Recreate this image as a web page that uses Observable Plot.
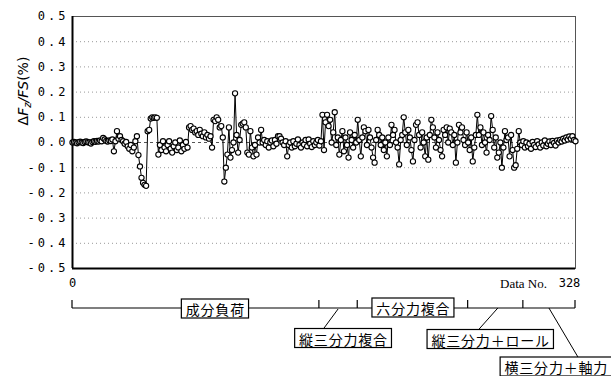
<!DOCTYPE html>
<html><head><meta charset="utf-8">
<script src="https://cdn.jsdelivr.net/npm/d3@7"></script>
<script src="https://cdn.jsdelivr.net/npm/@observablehq/plot@0.6"></script>
<style>
html,body{margin:0;padding:0;background:#fff;}
</style>
</head><body><div id="chart"></div>
<script>
// ΔFz/FS (%) read per Data No., in segments
const segA = [0.000, 0.002, 0.000, -0.003, 0.001, 0.003, 0.000, -0.002, 0.002, 0.004,
  0.001, 0.000, -0.004, 0.002, 0.005, 0.003, 0.006, 0.004, 0.008, 0.005,
  0.018, 0.012, 0.006, 0.004, 0.008, 0.006];
const segB = [0.012, -0.035, 0.005, 0.045, 0.015, 0.025, 0.010, 0.005, -0.005, 0.002,
  -0.015, -0.025, -0.010, -0.035, -0.020, 0.005, 0.025, -0.050, -0.095, -0.140,
  -0.160, -0.168, -0.172, 0.045, 0.050, 0.095, 0.100, 0.098, 0.100, 0.098,
  -0.048];
const segC = [-0.010, -0.030, 0.005, -0.020, -0.035, -0.010, 0.005, -0.025, -0.040, -0.015,
  0.000, -0.030, -0.020, 0.008, -0.035, -0.010, -0.025, 0.002, -0.020, 0.060,
  0.065, 0.050, 0.055, 0.040, 0.045, 0.030, 0.050, 0.035, 0.025, 0.040,
  0.020, 0.030, 0.015, 0.025, -0.020];
const segD = [0.090, 0.085, 0.100, 0.090, 0.060, 0.065, 0.020, -0.155, -0.100, -0.048,
  0.060, -0.060, -0.030, 0.000, 0.195, 0.030, -0.040, 0.010, 0.070, 0.075,
  0.080, 0.060, -0.040, -0.048, 0.045, -0.020, -0.055, -0.010, -0.048, 0.020,
  0.000, 0.050, 0.000];
const segE = [0.010, -0.010, 0.005, -0.020, 0.000, 0.008, -0.015, 0.010, -0.005, 0.025,
  0.025, 0.015, 0.000, -0.010, 0.005, -0.055, -0.010, 0.000, -0.020, 0.005,
  -0.015, -0.005, 0.012, -0.010, -0.020, 0.000, -0.008, 0.010, -0.015, 0.012,
  -0.005, -0.018, 0.005, -0.010, 0.000, 0.010, -0.012, 0.005];
const segF = [0.110, -0.030, 0.080, 0.110, 0.065, 0.090, 0.000, 0.040, 0.120, -0.010,
  0.020, -0.048, 0.010, 0.045, -0.035, 0.020, -0.010, -0.060, 0.040, 0.010,
  -0.020, 0.030, 0.000, 0.090, 0.010, -0.055, 0.020, 0.060, 0.045, -0.010,
  0.050, 0.020, -0.020, -0.060, -0.080, 0.010, 0.050, 0.030, -0.010, 0.020,
  -0.030, 0.000, -0.055, 0.020, -0.010, 0.070, 0.030, 0.050, 0.000, -0.020,
  -0.087, 0.010, 0.030, 0.100, 0.040, -0.010, 0.050, 0.020, -0.030, -0.075];
const segG = [0.010, 0.070, 0.080, 0.030, -0.020, 0.040, 0.000, -0.055, 0.020, -0.068,
  0.030, 0.090, 0.060, 0.020, -0.020, 0.040, 0.010, -0.030, -0.055, 0.050,
  0.030, 0.060, 0.000, 0.055, 0.040, -0.010, 0.030, -0.080, 0.000, 0.070,
  0.040, 0.060, 0.010, -0.010, 0.040, 0.000, -0.030, 0.020, -0.075, -0.020,
  0.030, 0.110, 0.030, 0.060, -0.010, 0.040, 0.000, -0.040, 0.030, 0.010,
  0.105, 0.050, -0.020, 0.020, -0.060, -0.040, 0.000, -0.100, -0.020, 0.045,
  0.010, 0.020, -0.055, 0.030, -0.030, -0.100, -0.090, -0.025, 0.045, 0.000];
const segH = [-0.010, 0.005, -0.020, 0.000, -0.015, -0.005, -0.025, 0.002, -0.010, -0.018,
  0.005, -0.008, -0.020, 0.000, -0.012, 0.008, -0.015, -0.005, 0.004, -0.010,
  0.006, -0.002, -0.012, 0.008, 0.000, 0.010, 0.004, 0.015, 0.008, 0.020,
  0.012, 0.024, 0.015, 0.025, 0.010, 0.005];

const deltaFz = [...segA, ...segB, ...segC, ...segD, ...segE, ...segF, ...segG, ...segH];
const yTicks = [-0.5, -0.4, -0.3, -0.2, -0.1, 0.0, 0.1, 0.2, 0.3, 0.4, 0.5];
const gridTicks = [-0.4, -0.3, -0.2, -0.1, 0.1, 0.2, 0.3, 0.4];
const xTickFirst = [0];
const xTickLast = [328];
const sectionBounds = [0, 161, 186, 258, 294, 328];
const sectionNames = ["成分負荷", "縦三分力複合", "六分力複合", "縦三分力＋ロール", "横三分力＋軸力"];

const table = deltaFz.map((v, i) => ({no: i, v}));

const chart = Plot.plot({
  width: 611, height: 376,
  marginLeft: 72, marginRight: 36, marginTop: 16, marginBottom: 108,
  x: {domain: [0, 328]},
  y: {domain: [-0.5, 0.5]},
  style: {background: "white", fontFamily: "DejaVu Sans Mono", fontSize: "12px", color: "black"},
  marks: [
    Plot.ruleY(gridTicks, {stroke: "#999", strokeDasharray: "1,3"}),
    Plot.ruleY([0], {stroke: "#555", strokeDasharray: "3,3"}),
    Plot.frame({stroke: "#555"}),
    Plot.ruleX([0], {stroke: "black", strokeWidth: 2}),
    Plot.ruleY([-0.5], {stroke: "black", strokeWidth: 2}),
    Plot.line(table, {x: "no", y: "v", stroke: "black", strokeWidth: 1}),
    Plot.dot(table, {x: "no", y: "v", r: 2.6, stroke: "black", fill: "white", strokeWidth: 1.1}),
    Plot.axisY({ticks: yTicks, tickSize: 0, tickPadding: 4, tickFormat: d => d.toFixed(1), label: null}),
    Plot.axisX({ticks: xTickFirst, tickSize: 0, tickPadding: 10, tickFormat: d => String(d), label: null}),
    Plot.axisX({ticks: xTickLast, tickSize: 0, tickPadding: 10, dx: -6, tickFormat: d => String(d), label: null})
  ]
});
document.getElementById("chart").append(chart);

const svg = d3.select(chart);
svg.selectAll('g[aria-label="y-axis tick label"] text').style("letter-spacing", "3px");
const xs = chart.scale("x");
const X = v => xs.apply(v);

// y-axis title
const yt = svg.append("text")
  .attr("transform", "translate(23,91) rotate(-90)")
  .attr("text-anchor", "middle").attr("dominant-baseline", "central")
  .style("font-family", "DejaVu Sans").style("font-size", "14px");
yt.append("tspan").text("Δ");
yt.append("tspan").style("font-style", "italic").text("F");
yt.append("tspan").style("font-style", "italic").style("font-size", "10px").attr("dy", 4).text("z");
yt.append("tspan").style("font-style", "italic").attr("dy", -4).text("/FS");
yt.append("tspan").text("(%)");

// "Data No." label
svg.append("text").attr("x", X(328) - 28).attr("y", 283)
  .attr("text-anchor", "end").attr("dominant-baseline", "central")
  .style("font-family", "Liberation Serif").style("font-size", "13px").text("Data No.");

// section bracket
const bracketY = 308;
svg.append("line").attr("x1", X(0)).attr("x2", X(328)).attr("y1", bracketY).attr("y2", bracketY)
  .attr("stroke", "black").attr("stroke-width", 1.2);
svg.selectAll(".sectick").data(sectionBounds).join("line")
  .attr("x1", d => X(d)).attr("x2", d => X(d)).attr("y1", bracketY - 8).attr("y2", bracketY)
  .attr("stroke", "black").attr("stroke-width", 1.2);

const labelLayout = [
  {dx: 19.5, cy: 308.5, leader: null},
  {dx: 5, cy: 338, leader: [0, 309, -14, 328]},
  {dx: 0.5, cy: 307.5, leader: null},
  {dx: -5, cy: 339, leader: [2.6, 308, -17, 330]},
  {dx: 7, cy: 366.5, leader: [0, 308, 29, 357]}
];
sectionNames.forEach((name, i) => {
  const mid = X((sectionBounds[i] + sectionBounds[i + 1]) / 2);
  const L = labelLayout[i];
  if (L.leader) {
    svg.append("line").attr("x1", mid + L.leader[0]).attr("y1", L.leader[1])
      .attr("x2", mid + L.leader[2]).attr("y2", L.leader[3])
      .attr("stroke", "black").attr("stroke-width", 1);
  }
  const cx = mid + L.dx;
  const g = svg.append("g");
  const rect = g.append("rect");
  const t = g.append("text").attr("x", cx + 0.4).attr("y", L.cy + 0.5)
    .attr("text-anchor", "middle").attr("dominant-baseline", "central")
    .style("font-family", "Noto Sans CJK JP").style("font-size", "14px")
    .style("letter-spacing", "0.8px").text(name);
  const w = t.node().getComputedTextLength() + 8;
  rect.attr("x", cx - w / 2).attr("y", L.cy - 9.5).attr("width", w).attr("height", 19)
    .attr("fill", "white").attr("stroke", "black").attr("stroke-width", 1.2);
});
</script>
</body></html>
